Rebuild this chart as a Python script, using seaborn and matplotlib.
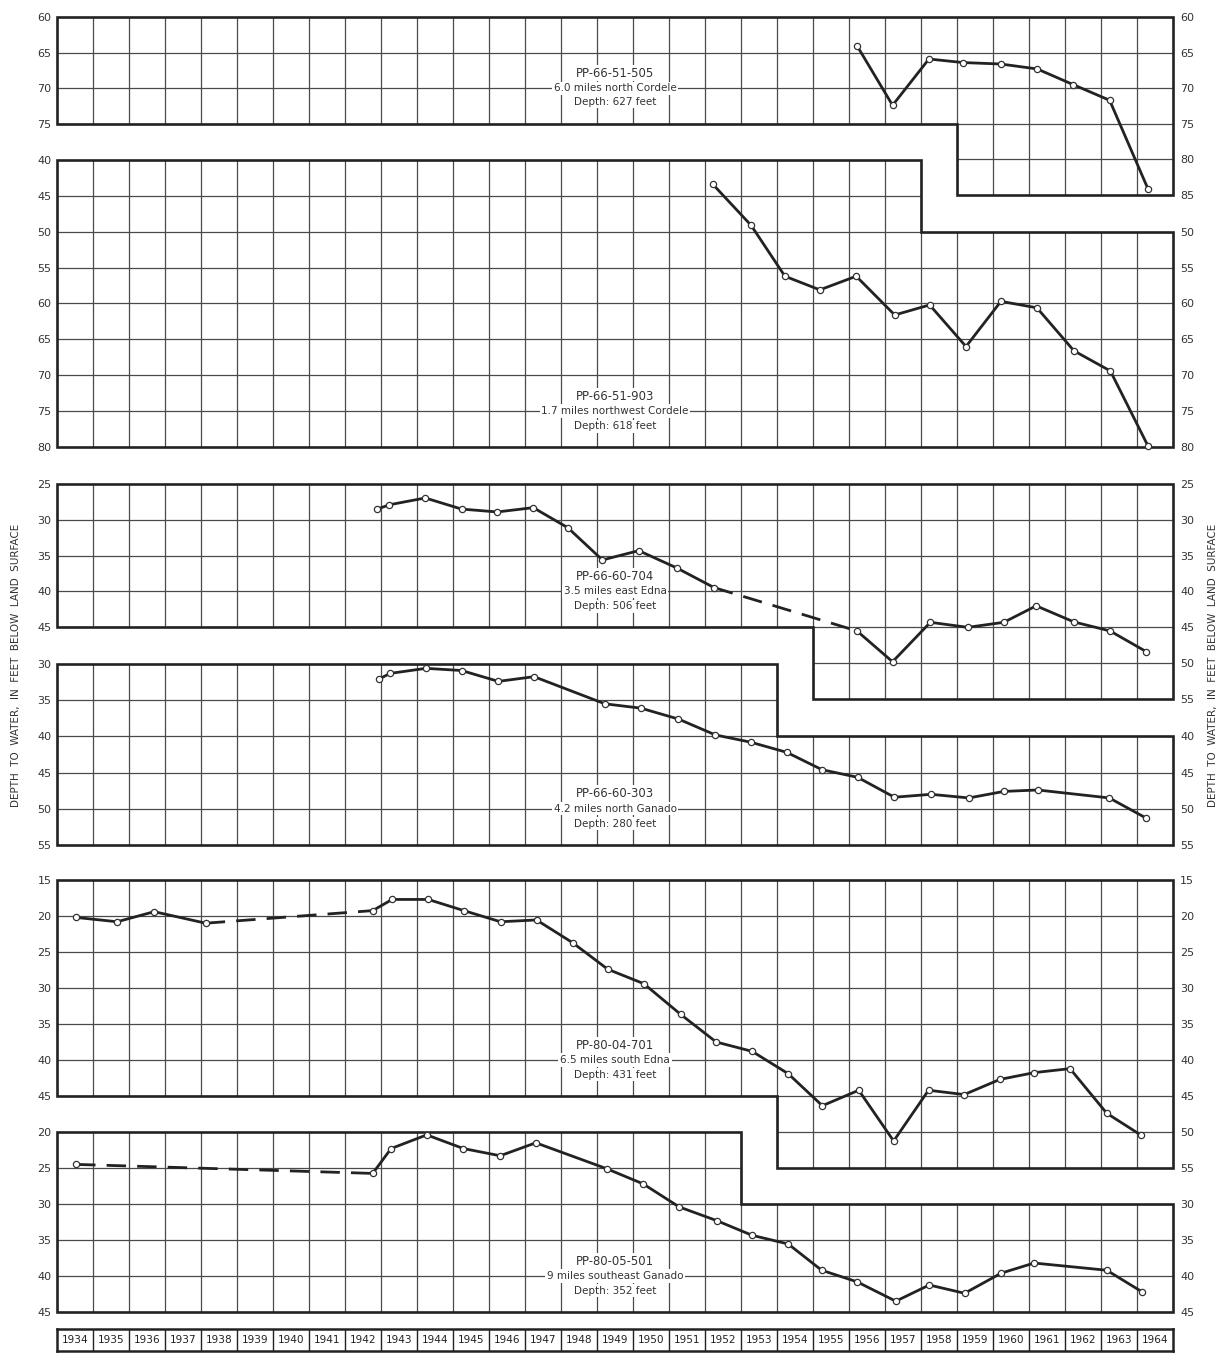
import numpy as np
import pandas as pd
import matplotlib
matplotlib.use("Agg")
import matplotlib.pyplot as plt
import seaborn as sns
from matplotlib.patches import Polygon

# ---------------- data ----------------
year_labels = list(range(1934, 1965))

w1_name = ["PP-66-51-505", "6.0 miles north Cordele", "Depth: 627 feet"]
w1_years = [1956.23, 1957.21, 1958.22, 1959.17, 1960.21, 1961.23, 1962.23, 1963.24, 1964.31]
w1_depth = [64.1, 72.4, 65.9, 66.4, 66.6, 67.3, 69.5, 71.7, 84.2]
w1_seg = [1, 1, 1, 1, 1, 1, 1, 1, 1]

w2_name = ["PP-66-51-903", "1.7 miles northwest Cordele", "Depth: 618 feet"]
w2_years = [1952.22, 1953.28, 1954.22, 1955.19, 1956.20, 1957.27, 1958.24, 1959.25,
            1960.22, 1961.22, 1962.25, 1963.26, 1964.30]
w2_depth = [43.4, 49.1, 56.2, 58.1, 56.2, 61.6, 60.2, 66.0, 59.7, 60.6, 66.6, 69.4, 79.8]
w2_seg = [1] * 13

w3_name = ["PP-66-60-704", "3.5 miles east Edna", "Depth: 506 feet"]
w3_years = [1942.90, 1943.23, 1944.23, 1945.24, 1946.23, 1947.23, 1948.19, 1949.15,
            1950.16, 1951.21, 1952.25, 1956.22, 1957.21, 1958.26, 1959.30, 1960.30,
            1961.20, 1962.25, 1963.25, 1964.26]
w3_depth = [28.5, 27.9, 26.95, 28.5, 28.9, 28.3, 31.1, 35.6, 34.3, 36.7, 39.45,
            45.5, 49.8, 44.3, 45.0, 44.3, 42.0, 44.25, 45.5, 48.4]
w3_seg = [1] * 11 + [2] * 9

w4_name = ["PP-66-60-303", "4.2 miles north Ganado", "Depth: 280 feet"]
w4_years = [1942.94, 1943.25, 1944.25, 1945.24, 1946.26, 1947.25, 1949.22, 1950.22,
            1951.26, 1952.29, 1953.27, 1954.27, 1955.25, 1956.24, 1957.26, 1958.28,
            1959.33, 1960.30, 1961.24, 1963.23, 1964.26]
w4_depth = [32.1, 31.3, 30.6, 30.9, 32.4, 31.75, 35.5, 36.1, 37.6, 39.8, 40.8, 42.2,
            44.6, 45.65, 48.4, 48.0, 48.5, 47.6, 47.4, 48.5, 51.3]
w4_seg = [1] * 21

w5_name = ["PP-80-04-701", "6.5 miles south Edna", "Depth: 431 feet"]
w5_years = [1934.53, 1935.67, 1936.70, 1938.13, 1942.77, 1943.31, 1944.31, 1945.30,
            1946.32, 1947.32, 1948.32, 1949.30, 1950.30, 1951.32, 1952.31, 1953.31,
            1954.31, 1955.26, 1956.27, 1957.24, 1958.21, 1959.20, 1960.19, 1961.15,
            1962.14, 1963.16, 1964.10]
w5_depth = [20.2, 20.8, 19.4, 21.0, 19.25, 17.7, 17.7, 19.25, 20.8, 20.55, 23.7, 27.4,
            29.4, 33.65, 37.5, 38.8, 41.9, 46.35, 44.2, 51.25, 44.2, 44.8, 42.7, 41.75,
            41.2, 47.4, 50.4]
w5_seg = [1] * 4 + [2] * 23

w6_name = ["PP-80-05-501", "9 miles southeast Ganado", "Depth: 352 feet"]
w6_years = [1934.53, 1942.77, 1943.28, 1944.27, 1945.29, 1946.31, 1947.30, 1949.27,
            1950.28, 1951.28, 1952.32, 1953.31, 1954.31, 1955.24, 1956.22, 1957.30,
            1958.23, 1959.21, 1960.23, 1961.14, 1963.16, 1964.14]
w6_depth = [24.5, 25.75, 22.3, 20.4, 22.3, 23.3, 21.5, 25.1, 27.2, 30.4, 32.3, 34.35,
            35.55, 39.2, 40.8, 43.5, 41.25, 42.4, 39.6, 38.2, 39.2, 42.2]
w6_seg = [1] + [2] * 21

y_title = "DEPTH  TO  WATER,  IN  FEET  BELOW  LAND  SURFACE"

# ---------------- layout / style ----------------
FIG_W, FIG_H = 1231, 1353
X0, X1 = 1934, 1965
PX_LEFT, PX_RIGHT = 57, 1173

INK = "#222222"
GRID = "#4a4a4a"

sns.set_theme(style="white")
plt.rcParams["font.family"] = ["DejaVu Sans"]

fig = plt.figure(figsize=(FIG_W / 100, FIG_H / 100), dpi=100)
fig.patch.set_facecolor("white")

panels = [
    dict(name=w1_name, yrs=w1_years, dep=w1_depth, seg=w1_seg,
         pt=17, pb=195, top=60, bot=85, step=1959, sdep=75, kind="A",
         lt=[60, 65, 70, 75], rt=[60, 65, 70, 75, 80, 85], ly=[67.9, 70.0, 71.9]),
    dict(name=w2_name, yrs=w2_years, dep=w2_depth, seg=w2_seg,
         pt=160, pb=447, top=40, bot=80, step=1958, sdep=50, kind="B",
         lt=list(range(40, 81, 5)), rt=list(range(50, 81, 5)), ly=[72.9, 75.0, 77.1]),
    dict(name=w3_name, yrs=w3_years, dep=w3_depth, seg=w3_seg,
         pt=484, pb=699, top=25, bot=55, step=1955, sdep=45, kind="A",
         lt=list(range(25, 46, 5)), rt=list(range(25, 56, 5)), ly=[37.9, 40.0, 42.05]),
    dict(name=w4_name, yrs=w4_years, dep=w4_depth, seg=w4_seg,
         pt=664, pb=845, top=30, bot=55, step=1954, sdep=40, kind="B",
         lt=list(range(30, 56, 5)), rt=list(range(40, 56, 5)), ly=[47.9, 50.0, 52.05]),
    dict(name=w5_name, yrs=w5_years, dep=w5_depth, seg=w5_seg,
         pt=880, pb=1168, top=15, bot=55, step=1954, sdep=45, kind="A",
         lt=list(range(15, 46, 5)), rt=list(range(15, 56, 5)), ly=[37.95, 40.0, 42.05]),
    dict(name=w6_name, yrs=w6_years, dep=w6_depth, seg=w6_seg,
         pt=1132, pb=1312, top=20, bot=45, step=1953, sdep=30, kind="B",
         lt=list(range(20, 46, 5)), rt=list(range(30, 46, 5)), ly=[37.95, 40.0, 42.05]),
]


def fig_rect(pt, pb):
    return [PX_LEFT / FIG_W, 1 - pb / FIG_H, (PX_RIGHT - PX_LEFT) / FIG_W, (pb - pt) / FIG_H]


for p in panels:
    ax = fig.add_axes(fig_rect(p["pt"], p["pb"]))
    ax.patch.set_alpha(0)
    ax.set_xlim(X0, X1)
    ax.set_ylim(p["bot"], p["top"])
    for s in ax.spines.values():
        s.set_visible(False)

    top, bot, st, sd = p["top"], p["bot"], p["step"], p["sdep"]
    if p["kind"] == "A":
        verts = [(X0, top), (X1, top), (X1, bot), (st, bot), (st, sd), (X0, sd)]
    else:
        verts = [(X0, top), (st, top), (st, sd), (X1, sd), (X1, bot), (X0, bot)]
    clip_poly = Polygon(verts, closed=True, fill=False, edgecolor="none",
                        transform=ax.transData)
    ax.add_patch(clip_poly)
    outline = Polygon(verts, closed=True, fill=False, edgecolor=INK, lw=1.9,
                      joinstyle="miter", zorder=2.5, clip_on=False)
    ax.add_patch(outline)

    vl = ax.vlines(np.arange(X0 + 1, X1), top, bot, colors=GRID, lw=0.9, zorder=1)
    hl = ax.hlines(np.arange(top + 5, bot, 5), X0, X1, colors=GRID, lw=0.9, zorder=1)
    vl.set_clip_path(clip_poly)
    hl.set_clip_path(clip_poly)

    df = pd.DataFrame({"year": p["yrs"], "depth": p["dep"], "seg": p["seg"]})
    segs = sorted(df["seg"].unique())
    for a, b in zip(segs[:-1], segs[1:]):
        con = pd.concat([df[df.seg == a].tail(1), df[df.seg == b].head(1)])
        sns.lineplot(data=con, x="year", y="depth", ax=ax, color=INK, lw=2.0,
                     linestyle=(0, (7, 4)), estimator=None, sort=False, legend=False,
                     zorder=3)
    for s_id in segs:
        d = df[df.seg == s_id]
        sns.lineplot(data=d, x="year", y="depth", ax=ax, color=INK, lw=2.0,
                     marker="o", markersize=4.5, markerfacecolor="white",
                     markeredgecolor="#333333", markeredgewidth=0.9,
                     estimator=None, sort=False, legend=False, zorder=3.5, clip_on=False)

    ax.set_xlabel("")
    ax.set_ylabel("")
    ax.set_xticks([])
    ax.set_yticks(p["lt"])
    ax.set_yticklabels([str(v) for v in p["lt"]])
    ax.tick_params(axis="y", length=0, pad=4, labelsize=8, labelcolor="#333333")

    ax2 = ax.twinx()
    ax2.patch.set_alpha(0)
    ax2.set_ylim(ax.get_ylim())
    for s in ax2.spines.values():
        s.set_visible(False)
    ax2.set_yticks(p["rt"])
    ax2.set_yticklabels([str(v) for v in p["rt"]])
    ax2.tick_params(axis="y", length=0, pad=5, labelsize=8, labelcolor="#333333")
    ax2.grid(False)
    ax.grid(False)

    for i, (txt, yv) in enumerate(zip(p["name"], p["ly"])):
        ax.text(1949.5, yv, txt, ha="center", va="center",
                fontsize=8.4 if i == 0 else 7.5, color="#333333",
                zorder=4, bbox=dict(facecolor="white", edgecolor="none", pad=1.2))

# year label row
axy = fig.add_axes(fig_rect(1329, 1351))
axy.set_xlim(X0, X1)
axy.set_ylim(0, 1)
axy.set_xticks([])
axy.set_yticks([])
for s in axy.spines.values():
    s.set_visible(True)
    s.set_color(INK)
    s.set_linewidth(1.8)
axy.vlines(np.arange(X0 + 1, X1), 0, 1, colors=INK, lw=1.0)
for yr in year_labels:
    axy.text(yr + 0.5, 0.48, str(yr), ha="center", va="center", fontsize=7.6,
             color="#222222")

# y-axis titles
fig.text(16 / FIG_W, 1 - 665 / FIG_H, y_title, rotation=90, ha="center", va="center",
         fontsize=7.5, color="#333333")
fig.text(1213 / FIG_W, 1 - 665 / FIG_H, y_title, rotation=90, ha="center", va="center",
         fontsize=7.5, color="#333333")

fig.savefig("out.png", dpi=100, facecolor="white")
